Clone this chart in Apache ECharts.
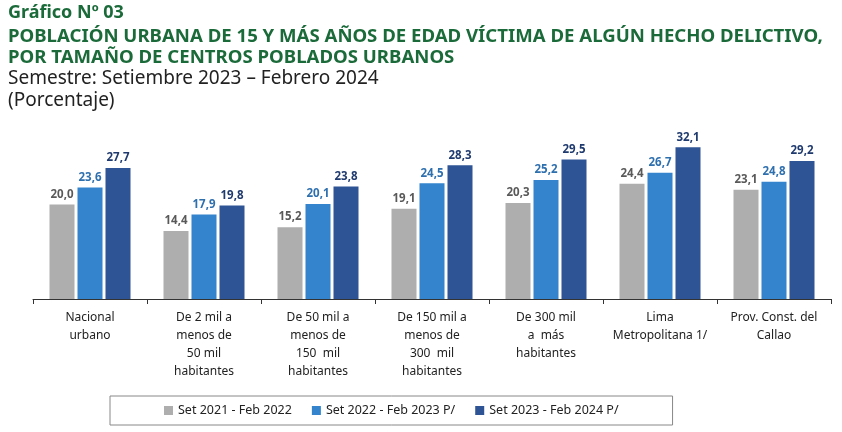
<!DOCTYPE html>
<html>
<head>
<meta charset="utf-8">
<script src="https://cdn.jsdelivr.net/npm/echarts@6/dist/echarts.min.js"></script>
<style>html,body{margin:0;padding:0;background:#fff}#main{width:842px;height:432px}</style>
</head>
<body>
<div id="main"></div>
<script>
var categories = ['Nacional\nurbano', 'De 2 mil a\nmenos de\n50 mil\nhabitantes', 'De 50 mil a\nmenos de\n150  mil\nhabitantes',
  'De 150 mil a\nmenos de\n300  mil\nhabitantes', 'De 300 mil\na  más\nhabitantes', 'Lima\nMetropolitana 1/', 'Prov. Const. del\nCallao'];
var seriesNames = ['Set 2021 - Feb 2022', 'Set 2022 - Feb 2023 P/', 'Set 2023 - Feb 2024 P/'];
var s2122 = [20.0, 14.4, 15.2, 19.1, 20.3, 24.4, 23.1];
var s2223 = [23.6, 17.9, 20.1, 24.5, 25.2, 26.7, 24.8];
var s2324 = [27.7, 19.8, 23.8, 28.3, 29.5, 32.1, 29.2];
var colors = ['#aeaeae', '#3384cc', '#2e5496'];
var labelColors = ['#595959', '#2e6fae', '#1f3a6e'];

var myChart = echarts.init(document.getElementById('main'));
var font = 'Noto Sans';
function mk(name, data, i) {
  return {
    name: name, type: 'bar', data: data, barWidth: 25, barGap: '12%',
    itemStyle: { color: colors[i] },
    label: {
      show: true, position: 'top', distance: 4, fontFamily: font, fontSize: 11.5, fontWeight: 'bold',
      color: labelColors[i],
      formatter: function (p) { return p.value.toFixed(1).replace('.', ','); }
    }
  };
}
myChart.setOption({
  animation: false,
  textStyle: { fontFamily: font },
  graphic: [
    { type: 'text', left: 8, top: 4, style: { text: 'Gráfico Nº 03', font: 'bold 18px "Noto Sans"', fill: '#1b6b3a' } },
    { type: 'text', left: 8, top: 26, style: { text: 'POBLACIÓN URBANA DE 15 Y MÁS AÑOS DE EDAD VÍCTIMA DE ALGÚN HECHO DELICTIVO,\nPOR TAMAÑO DE CENTROS POBLADOS URBANOS', font: 'bold 18.6px "Noto Sans"', lineHeight: 21, fill: '#1b6b3a' } },
    { type: 'text', left: 8, top: 68, style: { text: 'Semestre: Setiembre 2023 – Febrero 2024\n(Porcentaje)', font: '19px "Noto Sans"', lineHeight: 22, fill: '#222' } }
  ],
  legend: {
    bottom: 7, left: 110, itemWidth: 9, itemHeight: 9, itemGap: 20,
    padding: [8, 54], borderColor: '#888', borderWidth: 1,
    textStyle: { fontSize: 12.5, color: '#222', fontFamily: font },
    data: seriesNames.map(function (n) { return { name: n, icon: 'rect' }; })
  },
  grid: { left: 33, right: 11, top: 110, bottom: 133 },
  xAxis: {
    type: 'category', data: categories,
    axisLine: { lineStyle: { color: '#333' } },
    axisTick: { show: true, length: 5, lineStyle: { color: '#333' } },
    axisLabel: { interval: 0, fontSize: 12, color: '#222', lineHeight: 18, margin: 10, fontFamily: font }
  },
  yAxis: { type: 'value', min: 0, max: 40, show: false, splitLine: { show: false } },
  series: [mk(seriesNames[0], s2122, 0), mk(seriesNames[1], s2223, 1), mk(seriesNames[2], s2324, 2)]
});
</script>
</body>
</html>
